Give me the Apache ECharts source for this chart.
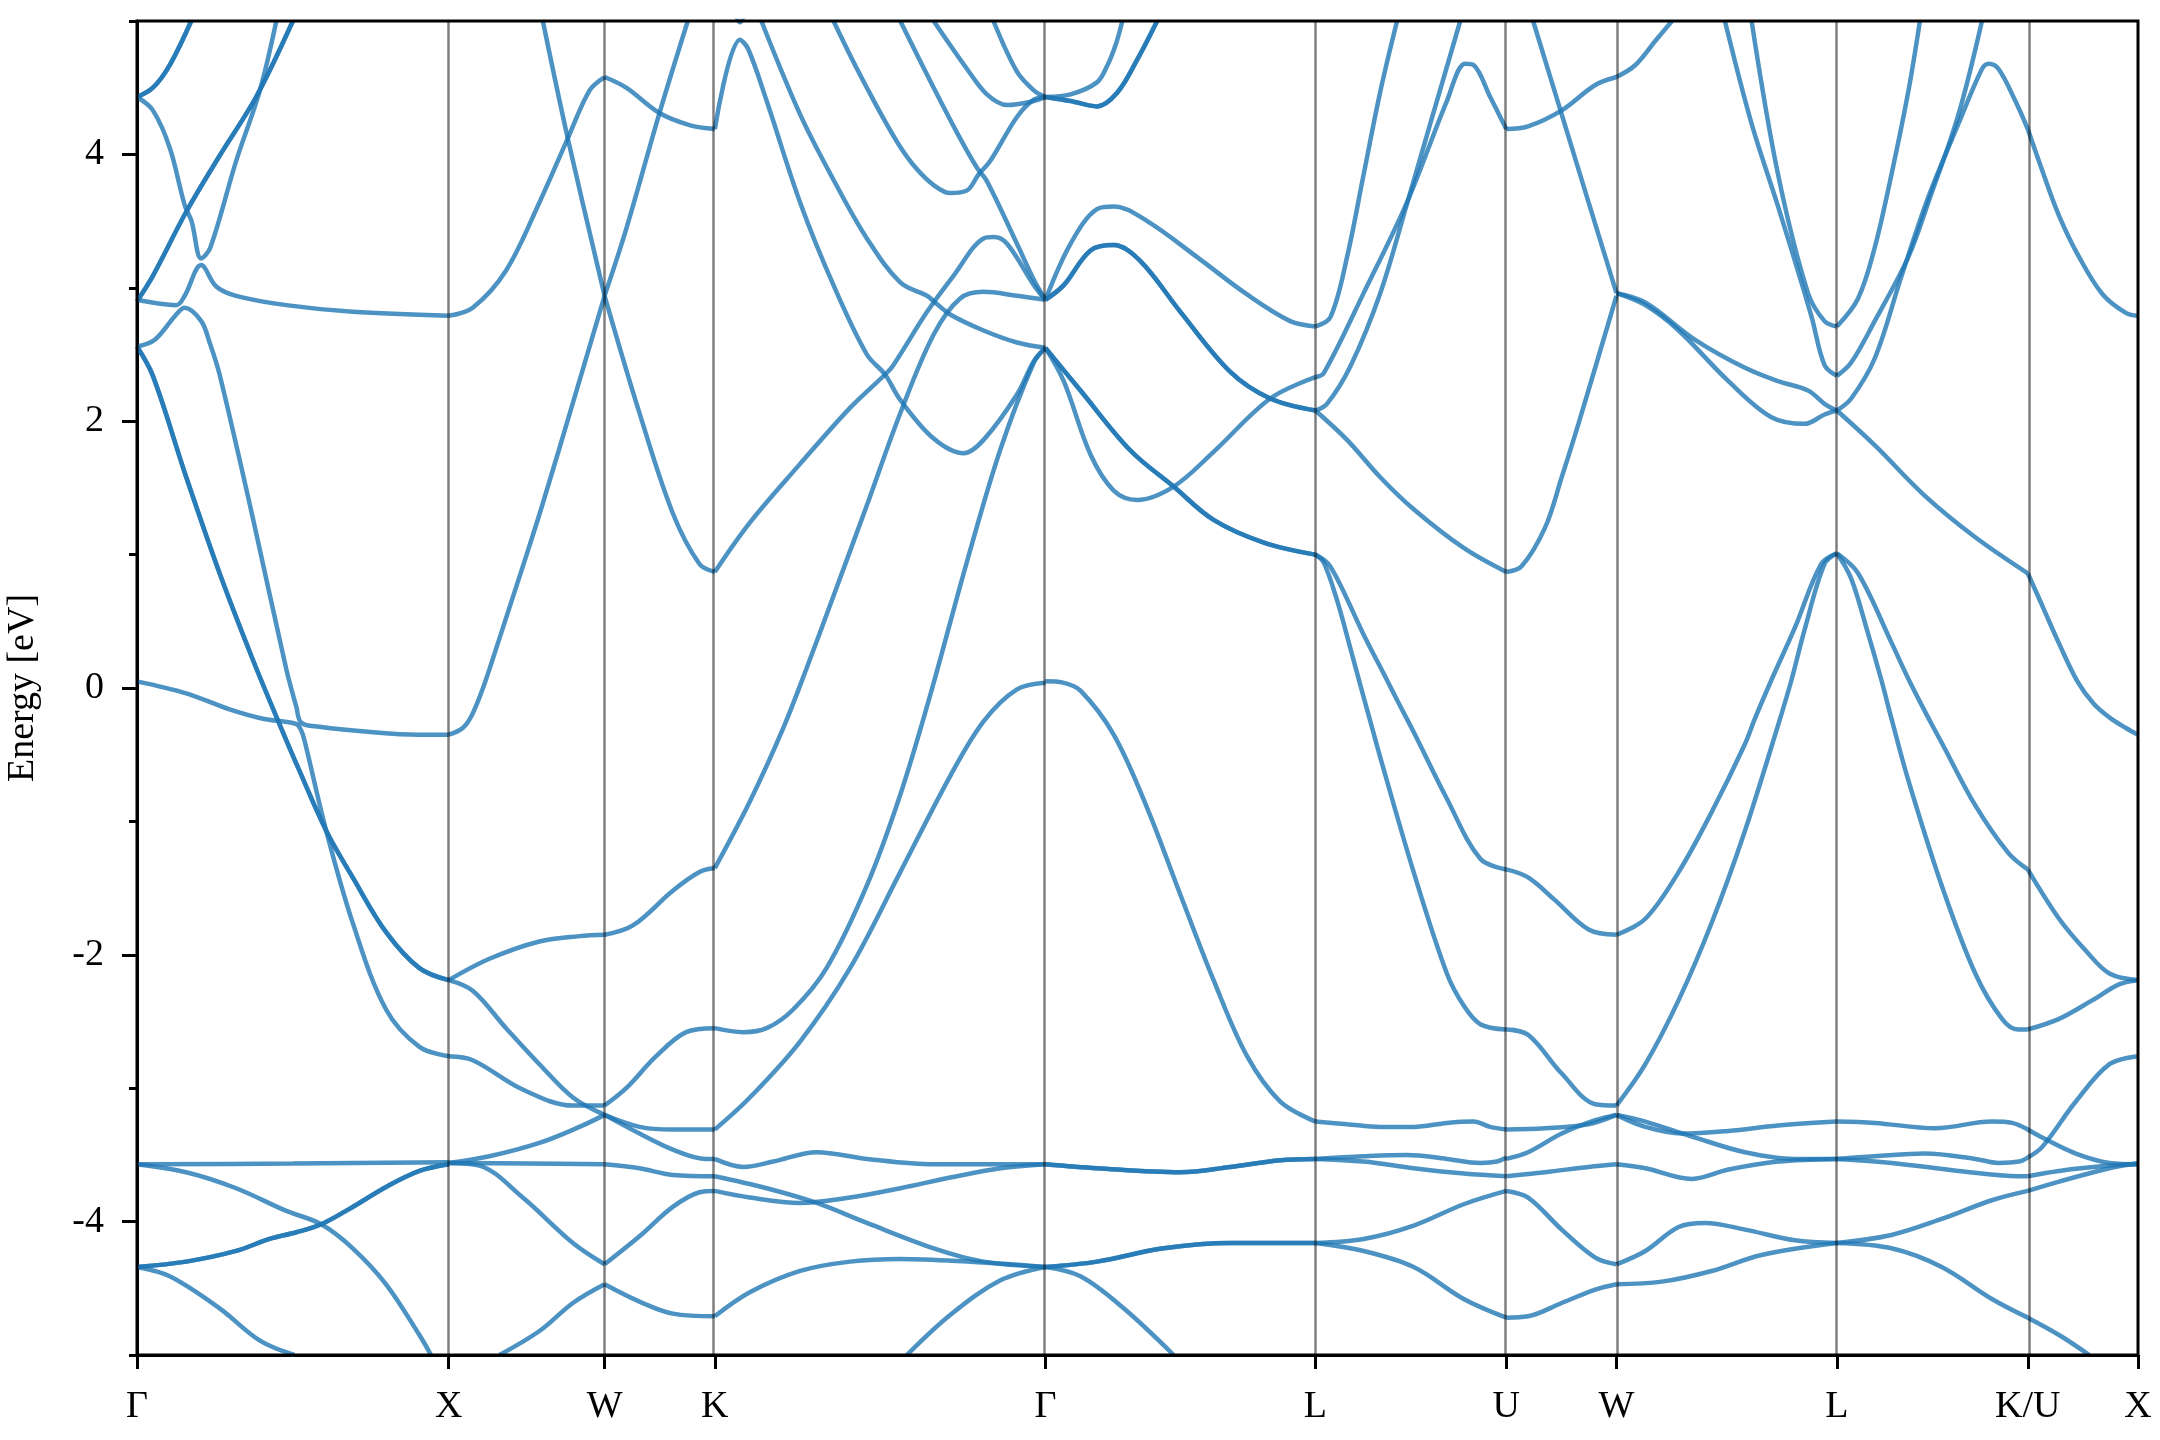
<!DOCTYPE html>
<html>
<head>
<meta charset="utf-8">
<script src="https://cdn.jsdelivr.net/npm/echarts@6/dist/echarts.min.js"></script>
<style>html,body{margin:0;padding:0;background:#fff}#c{width:2160px;height:1440px}</style>
</head>
<body>
<div id="c"></div>
<script>
// High-symmetry k-path positions (2π/a) and labels
const kPath = [0, 1, 1.5, 1.8536, 2.9142, 3.7802, 4.3926, 4.7462, 5.4533, 6.0657, 6.4193];
const kLabels = ['Γ', 'X', 'W', 'K', 'Γ', 'L', 'U', 'W', 'L', 'K/U', 'X'];
const energyTicks = [-4, -2, 0, 2, 4];

// Bands per path segment: each curve is a list of [fraction along segment, energy eV]
const segGX = [
  [[0,4.43],[0.051,4.33],[0.105,4.05],[0.153,3.62],[0.175,3.50],[0.206,3.22],[0.235,3.30],[0.318,3.95],[0.393,4.47],[0.447,5.0]],
  [[0,2.91],[0.126,2.87],[0.153,2.94],[0.206,3.17],[0.254,3.01],[0.318,2.94],[0.479,2.87],[0.692,2.82],[1,2.79]],
  [[0,2.56],[0.057,2.61],[0.126,2.80],[0.153,2.85],[0.206,2.75],[0.233,2.59],[0.265,2.35],[0.372,1.27],[0.479,0.14],[0.511,-0.14],[0.527,-0.26],[0.585,-0.29],[0.75,-0.33],[0.9,-0.35],[1,-0.35]],
  [[0,0.05],[0.158,-0.04],[0.297,-0.16],[0.404,-0.23],[0.511,-0.27],[0.527,-0.32],[0.537,-0.39],[0.607,-1.07],[0.692,-1.76],[0.799,-2.41],[0.906,-2.69],[1,-2.76]],
  [[0,-3.57],[0.5,-3.565],[1,-3.555]],
  [[0,-3.57],[0.158,-3.63],[0.318,-3.75],[0.479,-3.92],[0.591,-4.02],[0.692,-4.20],[0.799,-4.47],[0.906,-4.85],[0.943,-5.0]],
  [[0,-4.34],[0.105,-4.41],[0.265,-4.65],[0.393,-4.89],[0.505,-5.0]]
];
const segGXdeg = [
  [[0,4.43],[0.051,4.50],[0.105,4.67],[0.174,5.0]],
  [[0,2.90],[0.051,3.09],[0.158,3.57],[0.265,3.99],[0.382,4.43],[0.5,5.0]],
  [[0,2.56],[0.051,2.34],[0.158,1.58],[0.265,0.86],[0.372,0.21],[0.457,-0.27],[0.521,-0.62],[0.607,-1.07],[0.692,-1.42],[0.799,-1.83],[0.906,-2.10],[1,-2.19]],
  [[0,-4.34],[0.158,-4.30],[0.318,-4.22],[0.425,-4.13],[0.511,-4.08],[0.591,-4.02],[0.692,-3.89],[0.799,-3.74],[0.906,-3.62],[1,-3.57]]
];
const segXW = [
  [[0,2.79],[0.154,2.85],[0.368,3.13],[0.582,3.64],[0.764,4.12],[0.904,4.48],[1,4.58]],
  [[0.604,5.0],[0.764,4.12],[1,2.94]],
  [[0,-0.35],[0.09,-0.30],[0.15,-0.20],[0.22,0.0],[0.3,0.28],[0.4,0.64],[0.5,1.00],[0.6,1.37],[0.8,2.15],[1,2.94]],
  [[0,-2.19],[0.261,-2.03],[0.582,-1.90],[0.839,-1.86],[1,-1.85]],
  [[0,-2.19],[0.154,-2.27],[0.368,-2.55],[0.582,-2.82],[0.797,-3.07],[1,-3.20]],
  [[0,-2.76],[0.154,-2.79],[0.475,-3.01],[0.797,-3.13],[1,-3.13]],
  [[0,-3.56],[0.261,-3.51],[0.582,-3.41],[0.839,-3.29],[1,-3.20]],
  [[0,-3.56],[0.5,-3.565],[1,-3.57]],
  [[0,-3.56],[0.197,-3.58],[0.475,-3.82],[0.797,-4.16],[1,-4.32]],
  [[0.325,-5.0],[0.582,-4.82],[0.797,-4.61],[1,-4.47]]
];
const segWK = [
  [[0,4.58],[0.196,4.50],[0.498,4.31],[0.770,4.22],[1,4.19]],
  [[0,2.94],[0.196,3.44],[0.498,4.31],[0.755,5.0]],
  [[0,2.94],[0.317,2.06],[0.619,1.31],[0.861,0.93],[1,0.87]],
  [[0,-1.85],[0.257,-1.78],[0.619,-1.52],[0.861,-1.38],[1,-1.35]],
  [[0,-3.13],[0.196,-3.0],[0.468,-2.76],[0.740,-2.58],[1,-2.55]],
  [[0,-3.20],[0.317,-3.29],[0.619,-3.31],[1,-3.31]],
  [[0,-3.20],[0.317,-3.34],[0.619,-3.46],[0.921,-3.53],[1,-3.53]],
  [[0,-3.57],[0.317,-3.60],[0.619,-3.65],[1,-3.66]],
  [[0,-4.32],[0.317,-4.11],[0.619,-3.89],[0.861,-3.78],[1,-3.77]],
  [[0,-4.47],[0.317,-4.60],[0.619,-4.69],[1,-4.71]]
];
const segKG = [
  [[0,4.19],[0.076,4.86],[0.101,4.79],[0.157,4.40],[0.258,3.64],[0.359,3.02],[0.460,2.50],[0.515,2.35],[0.561,2.16],[0.662,1.87],[0.753,1.76],[0.813,1.86],[0.914,2.20],[0.965,2.45],[1,2.55]],
  [[0,0.87],[0.106,1.24],[0.258,1.68],[0.409,2.10],[0.515,2.35],[0.540,2.42],[0.642,2.82],[0.722,3.09],[0.813,3.37],[0.843,3.38],[0.884,3.33],[0.965,3.02],[1,2.91]],
  [[0.141,5.0],[0.258,4.30],[0.359,3.81],[0.460,3.37],[0.561,3.04],[0.642,2.94],[0.662,2.90],[0.712,2.80],[0.813,2.68],[0.914,2.59],[1,2.55]],
  [[0,-1.35],[0.106,-0.85],[0.207,-0.30],[0.278,0.15],[0.359,0.69],[0.460,1.37],[0.561,2.06],[0.662,2.65],[0.742,2.92],[0.813,2.97],[0.914,2.94],[1,2.91]],
  [[0,-2.55],[0.086,-2.58],[0.157,-2.55],[0.237,-2.41],[0.338,-2.10],[0.460,-1.48],[0.561,-0.80],[0.652,-0.05],[0.763,0.95],[0.864,1.79],[0.965,2.44],[1,2.55]],
  [[0,-3.31],[0.106,-3.07],[0.258,-2.65],[0.409,-2.10],[0.561,-1.38],[0.712,-0.66],[0.813,-0.25],[0.914,-0.01],[1,0.04]],
  [[0,-3.53],[0.086,-3.59],[0.177,-3.55],[0.308,-3.48],[0.460,-3.53],[0.662,-3.57],[0.864,-3.57],[1,-3.57]],
  [[0,-3.66],[0.157,-3.75],[0.308,-3.86],[0.460,-4.01],[0.662,-4.20],[0.813,-4.30],[1,-4.34]],
  [[0,-3.77],[0.106,-3.82],[0.258,-3.86],[0.409,-3.82],[0.561,-3.75],[0.712,-3.67],[0.864,-3.60],[1,-3.57]],
  [[0,-4.71],[0.106,-4.53],[0.258,-4.37],[0.409,-4.30],[0.561,-4.28],[0.763,-4.30],[1,-4.34]],
  [[0.581,-5.0],[0.712,-4.70],[0.864,-4.44],[1,-4.34]],
  [[0.359,5.0],[0.41,4.74],[0.46,4.50],[0.51,4.27],[0.56,4.06],[0.611,3.89],[0.662,3.77],[0.712,3.71],[0.763,3.73],[0.798,3.85],[0.833,3.95],[0.914,4.28],[0.965,4.41],[1,4.43]],
  [[0.561,5.0],[0.662,4.50],[0.742,4.12],[0.793,3.90],[0.823,3.80],[0.914,3.33],[0.965,3.06],[1,2.91]],
  [[0.662,5.0],[0.763,4.64],[0.823,4.45],[0.884,4.37],[0.965,4.40],[1,4.43]],
  [[0.843,5.0],[0.914,4.62],[0.965,4.48],[1,4.43]],
  [[0.062,5.05],[0.076,4.99],[0.090,5.05]]
];
const segGL = [
  [[0,4.43],[0.093,4.45],[0.191,4.54],[0.228,4.66],[0.260,4.82],[0.285,5.0]],
  [[0,2.91],[0.093,3.33],[0.191,3.59],[0.253,3.61],[0.377,3.50],[0.562,3.23],[0.747,2.95],[0.907,2.75],[1,2.71]],
  [[0,2.55],[0.068,2.30],[0.167,1.75],[0.253,1.48],[0.340,1.41],[0.475,1.51],[0.623,1.77],[0.833,2.17],[1,2.33]],
  [[0,0.05],[0.065,0.04],[0.130,-0.02],[0.253,-0.35],[0.377,-0.90],[0.5,-1.55],[0.623,-2.19],[0.747,-2.76],[0.870,-3.10],[1,-3.25]],
  [[0,-4.34],[0.130,-4.41],[0.290,-4.65],[0.475,-5.0]]
];
const segGLdeg = [
  [[0,4.43],[0.093,4.40],[0.191,4.36],[0.265,4.46],[0.340,4.71],[0.414,5.0]],
  [[0,2.91],[0.068,3.02],[0.167,3.28],[0.253,3.32],[0.352,3.20],[0.5,2.82],[0.685,2.37],[0.833,2.17],[1,2.08]],
  [[0,2.55],[0.130,2.23],[0.315,1.78],[0.475,1.51],[0.623,1.26],[0.809,1.09],[1,1.00]],
  [[0,-3.57],[0.191,-3.60],[0.5,-3.63],[0.685,-3.59],[0.870,-3.54],[1,-3.53]],
  [[0,-4.34],[0.191,-4.30],[0.438,-4.20],[0.685,-4.16],[1,-4.16]]
];
const segLU = [
  [[0,2.71],[0.079,2.78],[0.166,3.23],[0.253,3.85],[0.340,4.47],[0.428,5.0]],
  [[0,2.33],[0.044,2.36],[0.253,2.96],[0.480,3.64],[0.689,4.40],[0.785,4.68],[0.829,4.67],[0.916,4.43],[1,4.19]],
  [[0,2.08],[0.061,2.13],[0.183,2.41],[0.340,2.96],[0.480,3.63],[0.602,4.23],[0.759,5.0]],
  [[0,2.08],[0.166,1.86],[0.340,1.58],[0.515,1.34],[0.777,1.05],[1,0.87]],
  [[0,1.00],[0.044,0.94],[0.113,0.66],[0.183,0.30],[0.236,0.02],[0.288,-0.25],[0.340,-0.52],[0.515,-1.38],[0.689,-2.14],[0.777,-2.38],[0.864,-2.52],[1,-2.56]],
  [[0,1.00],[0.079,0.91],[0.253,0.40],[0.375,0.06],[0.428,-0.09],[0.515,-0.33],[0.689,-0.83],[0.864,-1.28],[1,-1.36]],
  [[0,-3.25],[0.166,-3.27],[0.340,-3.29],[0.515,-3.29],[0.689,-3.26],[0.829,-3.25],[0.916,-3.29],[1,-3.31]],
  [[0,-3.53],[0.253,-3.51],[0.480,-3.50],[0.689,-3.53],[0.864,-3.56],[0.951,-3.55],[1,-3.52]],
  [[0,-3.53],[0.253,-3.55],[0.515,-3.60],[0.777,-3.64],[1,-3.66]],
  [[0,-4.16],[0.253,-4.13],[0.515,-4.03],[0.777,-3.87],[1,-3.77]],
  [[0,-4.16],[0.253,-4.22],[0.515,-4.34],[0.777,-4.58],[1,-4.72]]
];
const segUW = [
  [[0,4.19],[0.198,4.21],[0.503,4.33],[0.808,4.52],[1,4.58]],
  [[0.244,5.0],[0.503,4.30],[0.747,3.64],[1,2.96]],
  [[0,0.87],[0.137,0.91],[0.351,1.20],[0.503,1.58],[0.655,1.98],[1,2.94]],
  [[0,-1.36],[0.198,-1.42],[0.442,-1.59],[0.747,-1.81],[1,-1.85]],
  [[0,-2.56],[0.198,-2.60],[0.503,-2.89],[0.808,-3.12],[1,-3.13]],
  [[0,-3.31],[0.351,-3.30],[0.747,-3.27],[1,-3.20]],
  [[0,-3.53],[0.198,-3.48],[0.503,-3.34],[0.808,-3.24],[1,-3.20]],
  [[0,-3.66],[0.351,-3.63],[0.747,-3.59],[1,-3.57]],
  [[0,-3.77],[0.198,-3.82],[0.503,-4.06],[0.808,-4.27],[1,-4.32]],
  [[0,-4.72],[0.198,-4.71],[0.503,-4.61],[0.808,-4.51],[1,-4.47]]
];
const segWL = [
  [[0,4.58],[0.086,4.67],[0.176,4.85],[0.252,5.0]],
  [[0,2.96],[0.131,2.89],[0.357,2.61],[0.583,2.40],[0.733,2.30],[0.869,2.23],[0.944,2.13],[1,2.08]],
  [[0,2.96],[0.131,2.87],[0.282,2.68],[0.508,2.30],[0.703,2.03],[0.854,1.98],[0.944,2.05],[1,2.08]],
  [[0.492,5.0],[0.613,4.23],[0.733,3.61],[0.884,2.79],[0.944,2.42],[1,2.34]],
  [[0.613,5.0],[0.733,3.85],[0.869,2.96],[0.944,2.75],[1,2.71]],
  [[0,-1.85],[0.131,-1.73],[0.282,-1.38],[0.432,-0.93],[0.583,-0.42],[0.628,-0.23],[0.703,0.06],[0.809,0.45],[0.929,0.93],[1,1.01]],
  [[0,-3.13],[0.131,-2.82],[0.282,-2.34],[0.432,-1.76],[0.583,-1.07],[0.733,-0.28],[0.794,0.06],[0.854,0.44],[0.944,0.93],[1,1.01]],
  [[0,-3.20],[0.131,-3.29],[0.297,-3.34],[0.508,-3.32],[0.733,-3.28],[1,-3.25]],
  [[0,-3.20],[0.131,-3.25],[0.357,-3.37],[0.583,-3.48],[0.809,-3.53],[1,-3.53]],
  [[0,-3.57],[0.131,-3.60],[0.342,-3.68],[0.508,-3.61],[0.733,-3.55],[1,-3.53]],
  [[0,-4.32],[0.131,-4.22],[0.282,-4.04],[0.402,-4.01],[0.583,-4.06],[0.809,-4.14],[1,-4.16]],
  [[0,-4.47],[0.206,-4.45],[0.432,-4.37],[0.658,-4.25],[1,-4.16]]
];
const segLK = [
  [[0,2.71],[0.111,2.92],[0.198,3.30],[0.286,3.85],[0.374,4.47],[0.435,5.0]],
  [[0,2.34],[0.075,2.44],[0.198,2.75],[0.374,3.23],[0.479,3.64],[0.637,4.30],[0.760,5.0]],
  [[0,2.08],[0.075,2.17],[0.198,2.47],[0.339,3.09],[0.479,3.68],[0.637,4.23],[0.760,4.64],[0.795,4.68],[0.847,4.64],[0.935,4.40],[1,4.19]],
  [[0,2.08],[0.198,1.82],[0.461,1.44],[0.725,1.13],[1,0.86]],
  [[0,1.01],[0.075,0.82],[0.163,0.41],[0.233,0.06],[0.286,-0.23],[0.374,-0.69],[0.549,-1.48],[0.725,-2.14],[0.865,-2.48],[0.95,-2.56],[1,-2.56]],
  [[0,1.01],[0.111,0.86],[0.286,0.34],[0.374,0.07],[0.496,-0.27],[0.549,-0.41],[0.725,-0.88],[0.9,-1.24],[1,-1.36]],
  [[0,-3.25],[0.198,-3.26],[0.514,-3.30],[0.812,-3.25],[0.918,-3.26],[1,-3.31]],
  [[0,-3.53],[0.198,-3.51],[0.461,-3.49],[0.725,-3.53],[0.847,-3.56],[0.953,-3.55],[1,-3.52]],
  [[0,-3.53],[0.286,-3.56],[0.637,-3.62],[0.953,-3.66],[1,-3.66]],
  [[0,-4.16],[0.286,-4.10],[0.549,-3.98],[0.812,-3.84],[1,-3.77]],
  [[0,-4.16],[0.286,-4.20],[0.549,-4.34],[0.812,-4.58],[1,-4.72]]
];
const segKX = [
  [[0,4.19],[0.131,3.88],[0.284,3.54],[0.466,3.23],[0.680,2.95],[0.893,2.81],[1,2.79]],
  [[0,0.86],[0.13,0.62],[0.28,0.34],[0.45,0.05],[0.6,-0.12],[0.74,-0.22],[0.89,-0.30],[1,-0.35]],
  [[0,-1.36],[0.284,-1.73],[0.527,-1.97],[0.741,-2.14],[1,-2.19]],
  [[0,-2.56],[0.284,-2.48],[0.588,-2.34],[0.832,-2.22],[1,-2.19]],
  [[0,-3.31],[0.131,-3.37],[0.436,-3.49],[0.741,-3.56],[1,-3.57]],
  [[0,-3.52],[0.131,-3.44],[0.436,-3.10],[0.741,-2.82],[1,-2.76]],
  [[0,-3.66],[0.284,-3.62],[0.741,-3.58],[1,-3.57]],
  [[0,-3.77],[0.284,-3.70],[0.741,-3.60],[1,-3.56]],
  [[0,-4.72],[0.284,-4.85],[0.558,-5.0]]
];

// segment order along the path, with doubly degenerate curves drawn twice
const segmentBands = [segGX, segXW, segWK, segKG, segGL, segLU, segUW, segWL, segLK, segKX];
const segmentDegenerate = [segGXdeg, [], [], [], segGLdeg, [], [], [], [], []];

const BAND_STYLE = { color: 'rgba(31,119,180,0.8)', width: 4.5 };
const FONT = '"Liberation Serif", "Times New Roman", serif';

const series = [];
function addCurve(pts, a, b) {
  series.push({
    type: 'line',
    data: pts.map(p => [a + p[0] * (b - a), p[1]]),
    showSymbol: false,
    smooth: 0.35,
    lineStyle: BAND_STYLE,
    silent: true,
    animation: false,
    z: 3
  });
}
segmentBands.forEach((curves, i) => {
  const a = kPath[i], b = kPath[i + 1];
  curves.forEach(c => addCurve(c, a, b));
  segmentDegenerate[i].forEach(c => { addCurve(c, a, b); addCurve(c, a, b); });
});
// vertical guide lines at high-symmetry points
series.push({
  type: 'line',
  data: [],
  silent: true,
  animation: false,
  z: 1,
  markLine: {
    silent: true,
    animation: false,
    symbol: ['none', 'none'],
    label: { show: false },
    lineStyle: { color: 'rgba(0,0,0,0.5)', width: 2.5, type: 'solid' },
    data: kPath.slice(1, -1).map(k => ({ xAxis: k }))
  }
});

function labelFor(v) {
  let best = 0;
  kPath.forEach((k, i) => { if (Math.abs(k - v) < Math.abs(kPath[best] - v)) best = i; });
  return kLabels[best];
}

const chart = echarts.init(document.getElementById('c'), null, { renderer: 'canvas' });
chart.setOption({
  animation: false,
  backgroundColor: '#fff',
  grid: { left: 137, right: 22, top: 21, bottom: 85, containLabel: false, outerBoundsMode: 'none', show: true, borderColor: '#000', borderWidth: 3, backgroundColor: 'transparent', z: 10 },
  xAxis: {
    type: 'value', min: kPath[0], max: kPath[kPath.length - 1],
    axisLine: { show: true, onZero: false, lineStyle: { color: '#000', width: 3 } },
    axisTick: { show: true, customValues: kPath, length: 14, lineStyle: { color: '#000', width: 3 } },
    axisLabel: { show: true, customValues: kPath, formatter: v => labelFor(v), fontSize: 38, fontFamily: FONT, color: '#000', margin: 33 },
    splitLine: { show: false }
  },
  yAxis: [
    {
      type: 'value', min: -5, max: 5, interval: 1,
      axisLine: { show: true, onZero: false, lineStyle: { color: '#000', width: 3 } },
      axisTick: { show: true, length: 8, lineStyle: { color: '#000', width: 3 } },
      axisLabel: { show: true, customValues: energyTicks, formatter: v => (v < 0 ? '-' + Math.abs(v) : String(v)), fontSize: 38, fontFamily: FONT, color: '#000', margin: 33 },
      splitLine: { show: false },
      name: 'Energy [eV]', nameLocation: 'middle', nameGap: 95,
      nameTextStyle: { fontSize: 38, fontFamily: FONT, color: '#000' }
    },
    {
      type: 'value', min: -5, max: 5, position: 'left',
      axisLine: { show: false, onZero: false },
      axisTick: { show: true, customValues: energyTicks, length: 15, lineStyle: { color: '#000', width: 3 } },
      axisLabel: { show: false },
      splitLine: { show: false }
    }
  ],
  series: series
});
</script>
</body>
</html>
